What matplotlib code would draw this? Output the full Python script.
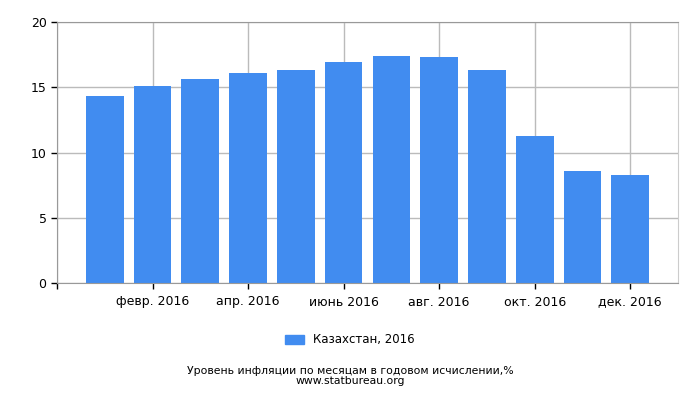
import numpy as np
import matplotlib
matplotlib.use("Agg")
import matplotlib.pyplot as plt
import matplotlib.patches as mpatches

# Inflation by month, Kazakhstan 2016
months = np.arange(1, 13)
values = [14.3, 15.1, 15.6, 16.1, 16.3, 16.9, 17.4, 17.3, 16.3, 11.3, 8.6, 8.3]
tick_months = [0, 2, 4, 6, 8, 10, 12]
tick_labels = ['', 'февр. 2016', 'апр. 2016', 'июнь 2016', 'авг. 2016', 'окт. 2016', 'дек. 2016']
series_name = 'Казахстан, 2016'
caption = 'Уровень инфляции по месяцам в годовом исчислении,%\nwww.statbureau.org'

bar_color = '#418cf0'
grid_color = '#bbbbbb'

fig = plt.figure(figsize=(7, 4), dpi=100)
ax = fig.add_axes([57 / 700, 1 - 283 / 400, 621 / 700, 261 / 400])

ax.bar(months, values, width=0.79, color=bar_color, zorder=2)

ax.set_xlim(0, 13)
ax.set_ylim(0, 20)
ax.set_yticks([0, 5, 10, 15, 20])
ax.set_xticks(tick_months)
ax.set_xticklabels(tick_labels)

ax.grid(True, color=grid_color, linewidth=1, zorder=0)
for side in ['top', 'bottom', 'left']:
    ax.spines[side].set_color('#999999')
ax.spines['right'].set_color('#cccccc')
ax.tick_params(axis='both', colors='black', labelsize=9, length=4, width=1)
ax.tick_params(axis='x', pad=5)

# legend and caption below
patch = mpatches.Patch(color=bar_color, label=series_name)
fig.legend(handles=[patch], loc='center', bbox_to_anchor=(0.5, 1 - 340 / 400),
           frameon=False, fontsize=8.5, handlelength=1.6, handleheight=0.7)
fig.text(0.5, 1 - 376 / 400, caption, ha='center', va='center',
         fontsize=7.8, linespacing=0.95)

fig.savefig('out.png', dpi=100)
